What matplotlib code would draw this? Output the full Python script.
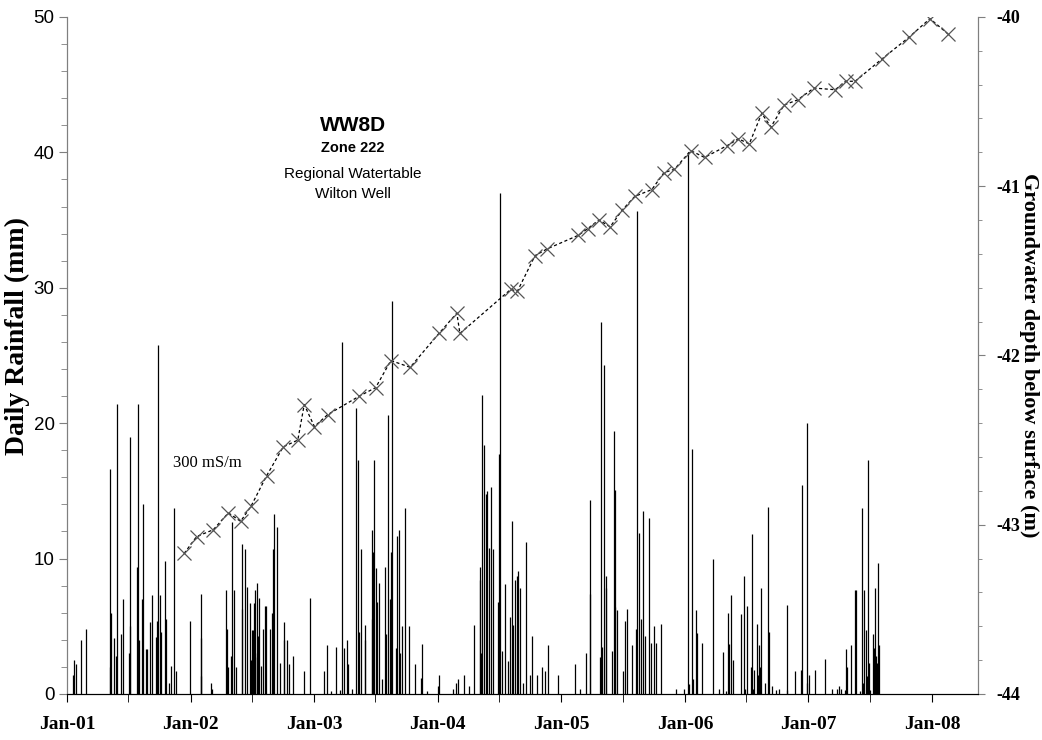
import pandas as pd
import matplotlib
matplotlib.use('Agg')
import matplotlib.pyplot as plt

start = pd.Timestamp('2001-01-01')

# daily rainfall: day number since 1 Jan 2001, rainfall in mm
rain_day = [18, 20, 28, 41, 57, 126, 128, 131, 139, 144, 149, 159, 165, 184, 185, 187,
            207, 210, 214, 221, 226, 233, 235, 246, 251, 262, 265, 270, 275, 278, 291, 293,
            301, 308, 316, 322, 364, 395, 396, 397, 425, 429, 469, 472, 477, 485, 489, 492,
            500, 516, 518, 526, 531, 541, 545, 547, 549, 552, 555, 557, 560, 562, 564, 567,
            572, 580, 585, 588, 600, 605, 610, 613, 620, 629, 640, 642, 651, 655, 668, 701,
            717, 759, 767, 781, 794, 807, 814, 818, 828, 830, 841, 854, 861, 864, 868, 880,
            882, 900, 902, 905, 907, 912, 917, 923, 932, 940, 944, 950, 953, 956, 958, 960,
            972, 976, 981, 984, 991, 999, 1012, 1027, 1046, 1049, 1065, 1095, 1098, 1142,
            1150, 1154, 1172, 1189, 1202, 1219, 1221, 1224, 1227, 1233, 1237, 1242, 1248,
            1253, 1260, 1274, 1278, 1280, 1284, 1294, 1302, 1310, 1316, 1319, 1325, 1329,
            1334, 1339, 1347, 1357, 1368, 1374, 1388, 1404, 1412, 1422, 1452, 1502, 1516,
            1534, 1544, 1546, 1576, 1578, 1582, 1588, 1592, 1594, 1611, 1616, 1618, 1620,
            1624, 1642, 1649, 1656, 1671, 1680, 1685, 1690, 1696, 1703, 1707, 1721, 1726,
            1734, 1739, 1755, 1800, 1824, 1834, 1839, 1846, 1851, 1859, 1861, 1875, 1910,
            1928, 1937, 1946, 1954, 1957, 1963, 1969, 1991, 2000, 2004, 2010, 2021, 2023,
            2027, 2031, 2039, 2043, 2046, 2048, 2052, 2062, 2071, 2073, 2082, 2096, 2103,
            2127, 2129, 2152, 2170, 2173, 2186, 2188, 2194, 2211, 2240, 2260, 2276, 2282,
            2287, 2298, 2303, 2306, 2317, 2328, 2332, 2343, 2348, 2351, 2355, 2360, 2363,
            2367, 2370, 2373, 2382, 2385, 2388, 2390, 2393, 2396, 2399]
rain_mm = [1.4, 2.5, 2.2, 4.0, 4.8, 16.6, 2.0, 6.0, 4.1, 2.8, 21.4, 4.4, 7.0, 3.0, 5.0, 19.0,
           9.4, 21.4, 4.0, 7.0, 14.0, 3.3, 3.3, 5.3, 7.3, 4.2, 5.4, 25.8, 7.3, 4.6, 9.8, 5.5,
           0.8, 2.1, 13.7, 1.7, 5.4, 7.4, 1.3, 4.1, 0.8, 0.4, 7.7, 4.8, 2.0, 2.8, 12.7, 7.7,
           2.0, 11.1, 6.3, 10.7, 7.9, 6.7, 2.5, 4.7, 4.7, 6.7, 2.7, 7.7, 8.2, 3.0, 4.3, 7.1,
           2.1, 4.8, 6.5, 6.5, 4.8, 6.0, 10.7, 13.3, 12.3, 2.3, 4.0, 5.3, 4.0, 2.2, 2.8, 1.7,
           7.1, 1.7, 3.6, 0.2, 3.5, 0.3, 26.0, 3.4, 4.0, 2.2, 0.4, 21.1, 17.3, 4.6, 10.7, 4.0,
           5.1, 5.5, 12.1, 10.5, 17.3, 9.3, 6.8, 8.2, 1.1, 9.4, 4.4, 20.6, 7.0, 3.5, 10.5, 29.0,
           3.4, 11.7, 12.1, 3.0, 5.0, 13.7, 5.0, 2.2, 1.2, 3.7, 0.2, 0.6, 1.4, 0.4,
           0.8, 1.1, 1.4, 0.6, 5.1, 9.4, 8.4, 3.0, 22.1, 18.4, 14.8, 15.0, 10.8,
           15.3, 10.7, 6.8, 17.7, 37.0, 3.2, 8.1, 2.4, 5.7, 12.8, 5.1, 8.4, 8.7,
           9.1, 7.8, 0.8, 11.2, 1.4, 4.3, 1.4, 2.0, 1.7, 3.6, 1.4, 2.2, 0.4,
           3.0, 7.4, 14.3, 2.7, 27.5, 3.5, 24.3, 8.7, 7.8, 3.2, 19.4, 6.4, 15.1,
           6.2, 1.7, 5.4, 6.3, 3.6, 4.8, 35.7, 11.9, 5.5, 13.5, 4.3, 13.0, 3.8,
           5.0, 3.8, 5.2, 0.4, 0.4, 40.0, 0.7, 18.1, 1.1, 6.2, 4.5, 3.8, 10.0,
           0.4, 3.1, 0.2, 6.0, 3.7, 7.3, 2.5, 5.9, 8.7, 0.4, 6.5, 2.0, 11.8,
           0.4, 1.8, 5.2, 1.4, 3.6, 2.0, 7.8, 0.8, 13.8, 4.6, 0.6, 0.3, 0.4,
           0.3, 6.6, 1.7, 1.8, 15.4, 20.0, 0.8, 1.4, 1.8, 2.6, 0.4, 0.4, 0.6,
           0.4, 0.3, 3.3, 2.0, 3.6, 7.7, 7.7, 0.2, 13.7, 0.8, 7.7, 4.7, 1.3,
           17.3, 2.3, 0.3, 4.4, 3.4, 7.8, 2.8, 2.3, 9.7, 3.6]

# groundwater depth readings
gw_day = [346, 383, 432, 477, 513, 544, 590, 639, 682, 701, 731, 770, 864, 912, 957, 1014,
          1099, 1152, 1161, 1311, 1331, 1383, 1419, 1511, 1539, 1572, 1605, 1641, 1678,
          1728, 1764, 1795, 1843, 1884, 1951, 1984, 2016, 2053, 2080, 2119, 2159, 2207,
          2270, 2301, 2329, 2407, 2488, 2550, 2603]
gw_depth = [-43.17, -43.07, -43.03, -42.93, -42.98, -42.89, -42.71, -42.54, -42.50, -42.29,
            -42.42, -42.35, -42.24, -42.19, -42.03, -42.07, -41.87, -41.75, -41.87, -41.61,
            -41.62, -41.41, -41.37, -41.29, -41.25, -41.20, -41.24, -41.14, -41.06, -41.02,
            -40.92, -40.90, -40.79, -40.83, -40.76, -40.72, -40.75, -40.57, -40.65, -40.52,
            -40.49, -40.42, -40.43, -40.38, -40.38, -40.25, -40.12, -40.01, -40.10]

xtick_labels = ['Jan-01', 'Jan-02', 'Jan-03', 'Jan-04', 'Jan-05', 'Jan-06', 'Jan-07', 'Jan-08']
left_ticks = [0, 10, 20, 30, 40, 50]
right_ticks = [-44, -43, -42, -41, -40]

rain_dates = start + pd.to_timedelta(rain_day, unit='D')
gw_dates = start + pd.to_timedelta(gw_day, unit='D')
year_ticks = pd.date_range('2001-01-01', '2008-01-01', freq='YS')
mid_ticks = pd.date_range('2001-07-01', '2008-01-01', freq='12MS')

serif = 'Liberation Serif'
sans = 'Liberation Sans'

fig = plt.figure(figsize=(10.42, 7.40), dpi=100)
ax = fig.add_axes([0.0643, 0.0622, 0.8743, 0.9149])
ax2 = ax.twinx()

ax.vlines(rain_dates, 0, rain_mm, color='black', linewidth=0.9)
ax2.plot(gw_dates, gw_depth, color='black', linestyle=(0, (2.5, 2)), linewidth=0.9,
         marker='x', markersize=10, markeredgecolor='#555555', markeredgewidth=0.9)

ax.set_xlim(start, start + pd.Timedelta(days=2692))
ax.set_ylim(0, 50)
ax2.set_ylim(-44, -40)

ax.set_xticks(year_ticks)
ax.set_xticklabels(xtick_labels, fontfamily=serif, fontweight='bold', fontsize=14)
ax.set_xticks(mid_ticks, minor=True)
ax.tick_params(axis='x', which='both', direction='out', length=6, pad=10, color='black')

ax.set_yticks(left_ticks)
ax.set_yticklabels([str(t) for t in left_ticks], fontfamily=sans, fontsize=13.5)
ax.set_yticks(range(0, 51, 2), minor=True)
ax.tick_params(axis='y', which='major', length=6, pad=3, color='#7f7f7f')
ax.tick_params(axis='y', which='minor', length=4, color='#7f7f7f')

ax2.set_yticks(right_ticks)
ax2.set_yticklabels([str(t) for t in right_ticks], fontfamily=serif, fontweight='bold', fontsize=13)
ax2.set_yticks([-44 + 0.2 * i for i in range(21)], minor=True)
ax2.tick_params(axis='y', which='major', length=5, pad=8, color='#7f7f7f')
ax2.tick_params(axis='y', which='minor', length=3, color='#7f7f7f')

for a in (ax, ax2):
    a.spines['top'].set_visible(False)
    a.spines['left'].set_color('#7f7f7f')
    a.spines['right'].set_color('#7f7f7f')
    a.spines['bottom'].set_color('black')

ax.set_ylabel('Daily Rainfall (mm)', fontfamily=serif, fontweight='bold', fontsize=20)
ax.yaxis.set_label_coords(-0.041, 0.529)
ax2.set_ylabel('Groundwater depth below surface (m)', fontfamily=serif, fontweight='bold',
               fontsize=16, rotation=270, va='bottom')
ax2.yaxis.set_label_coords(1.045, 0.5)

ax.text(0.314, 0.840, 'WW8D', transform=ax.transAxes, ha='center', va='center',
        fontfamily=sans, fontweight='bold', fontsize=15)
ax.text(0.314, 0.806, 'Zone 222', transform=ax.transAxes, ha='center', va='center',
        fontfamily=sans, fontweight='bold', fontsize=10.5)
ax.text(0.314, 0.768, 'Regional Watertable', transform=ax.transAxes, ha='center', va='center',
        fontfamily=sans, fontsize=11)
ax.text(0.314, 0.738, 'Wilton Well', transform=ax.transAxes, ha='center', va='center',
        fontfamily=sans, fontsize=11)
ax.text(0.116, 0.341, '300 mS/m', transform=ax.transAxes, ha='left', va='center',
        fontfamily=serif, fontsize=12)

fig.savefig('out.png', dpi=100)
